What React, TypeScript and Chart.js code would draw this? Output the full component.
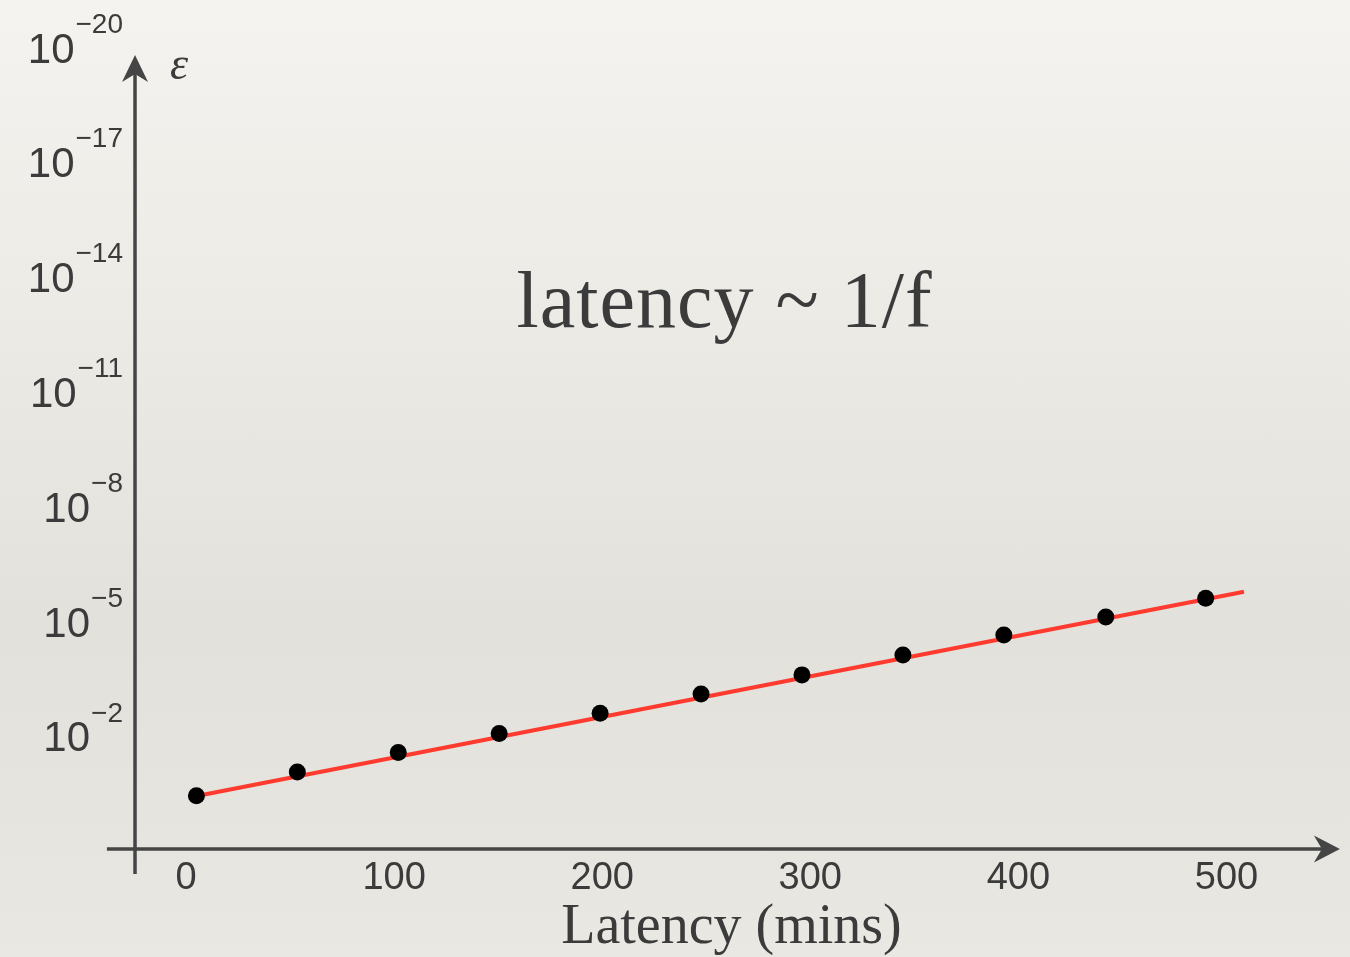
import React, { useEffect, useRef } from "react";
import { Chart, registerables } from "chart.js";

Chart.register(...registerables);

// ---- data ----
const latencyMins = [5, 53.5, 102, 150.5, 199, 247.5, 296, 344.5, 393, 442, 490];
// epsilon = 10^(-exponent)
const epsExponent = [0.51, 1.13, 1.64, 2.14, 2.67, 3.17, 3.67, 4.19, 4.71, 5.18, 5.67];
const fitLatency = [2.7, 508.4];
const fitExponent = [0.48, 5.84];
const xTickValues = [0, 100, 200, 300, 400, 500];
const yTickExponents = [20, 17, 14, 11, 8, 5, 2];
const title = "latency ~ 1/f";
const xAxisTitle = "Latency (mins)";
const yAxisTitle = "ε";

// ---- view (data units) ----
const X_MIN = -89.38;
const X_MAX = 559.35;
const Y_MIN = -3.702;
const Y_MAX = 21.305;
const AXIS_X_AT = -24.5; // latency where the vertical axis sits
const AXIS_Y_AT = -0.88; // exponent where the horizontal axis sits

const INK = "#454545";
const TEXT = "#3b3b3b";

const axesPlugin = {
  id: "customAxes",
  beforeDatasetsDraw(chart: any) {
    const { ctx } = chart;
    const xs = chart.scales.x;
    const ys = chart.scales.y;
    const ax = xs.getPixelForValue(AXIS_X_AT);
    const ay = ys.getPixelForValue(AXIS_Y_AT);
    ctx.save();
    ctx.strokeStyle = INK;
    ctx.fillStyle = INK;
    ctx.lineWidth = 3.5;
    // vertical axis
    const yTop = ys.getPixelForValue(19.87);
    const yBot = ys.getPixelForValue(-1.53);
    ctx.beginPath();
    ctx.moveTo(ax, yBot);
    ctx.lineTo(ax, yTop + 12);
    ctx.stroke();
    ctx.beginPath();
    ctx.moveTo(ax, yTop);
    ctx.lineTo(ax - 13, yTop + 27);
    ctx.lineTo(ax, yTop + 19);
    ctx.lineTo(ax + 13, yTop + 27);
    ctx.closePath();
    ctx.fill();
    // horizontal axis
    const xLeft = xs.getPixelForValue(-38);
    const xRight = xs.getPixelForValue(554.5);
    ctx.beginPath();
    ctx.moveTo(xLeft, ay);
    ctx.lineTo(xRight - 12, ay);
    ctx.stroke();
    ctx.beginPath();
    ctx.moveTo(xRight, ay);
    ctx.lineTo(xRight - 26, ay - 13.5);
    ctx.lineTo(xRight - 18, ay);
    ctx.lineTo(xRight - 26, ay + 13.5);
    ctx.closePath();
    ctx.fill();

    // x tick labels
    ctx.fillStyle = TEXT;
    ctx.font = '38px "Liberation Sans", Arial, sans-serif';
    ctx.textAlign = "center";
    ctx.textBaseline = "middle";
    for (const v of xTickValues) {
      ctx.fillText(String(v), xs.getPixelForValue(v), ay + 30);
    }

    // y tick labels 10^-n, right aligned
    const rightEdge = ax - 12;
    for (const n of yTickExponents) {
      const py = ys.getPixelForValue(n);
      const sup = "\u2212" + n;
      ctx.font = '28px "Liberation Sans", Arial, sans-serif';
      ctx.textAlign = "right";
      ctx.textBaseline = "middle";
      const supW = ctx.measureText(sup).width;
      ctx.fillText(sup, rightEdge, py - 25);
      ctx.font = '42px "Liberation Sans", Arial, sans-serif';
      ctx.fillText("10", rightEdge - supW - 1, py + 1);
    }

    // axis titles
    ctx.font = 'italic 46px "Liberation Serif", "DejaVu Serif", serif';
    ctx.textAlign = "left";
    ctx.textBaseline = "alphabetic";
    ctx.fillText(yAxisTitle, ax + 35, yTop + 24);

    ctx.font = '56px "Liberation Serif", "DejaVu Serif", serif';
    ctx.textAlign = "center";
    ctx.fillText(xAxisTitle, 731.5, 943);

    ctx.font = '80px "Liberation Serif", "DejaVu Serif", serif';
    (ctx as any).letterSpacing = "1px";
    ctx.fillText(title, 724.5, 327);
    ctx.restore();
  },
};

export default function App() {
  const ref = useRef<HTMLCanvasElement | null>(null);
  useEffect(() => {
    document.body.style.margin = "0";
    const canvas = ref.current;
    if (!canvas) return;
    const chart = new Chart(canvas, {
      type: "scatter",
      data: {
        datasets: [
          {
            label: "measured",
            data: latencyMins.map((x, i) => ({ x, y: epsExponent[i] })),
            showLine: false,
            pointRadius: 8.5,
            pointHoverRadius: 8.5,
            pointBackgroundColor: "#000000",
            pointBorderColor: "#000000",
            pointBorderWidth: 0,
            order: 0,
          },
          {
            label: "fit",
            data: fitLatency.map((x, i) => ({ x, y: fitExponent[i] })),
            showLine: true,
            borderColor: "#ff3a2e",
            borderWidth: 4,
            pointRadius: 0,
            order: 1,
          },
        ],
      },
      options: {
        animation: false,
        responsive: false,
        devicePixelRatio: 1,
        layout: { padding: 0, autoPadding: false },
        plugins: {
          legend: { display: false },
          tooltip: { enabled: false },
        },
        scales: {
          x: { type: "linear", min: X_MIN, max: X_MAX, display: false },
          y: { type: "linear", min: Y_MIN, max: Y_MAX, display: false },
        },
      },
      plugins: [axesPlugin],
    });
    return () => chart.destroy();
  }, []);

  return (
    <div
      style={{
        position: "absolute",
        left: 0,
        top: 0,
        width: 1350,
        height: 957,
        background:
          "linear-gradient(180deg, #f4f3ef 0%, #ebeae5 35%, #e2e1dc 65%, #e5e4df 85%, #e9e8e3 100%)",
      }}
    >
      <canvas ref={ref} width={1350} height={957} style={{ display: "block" }} />
    </div>
  );
}
